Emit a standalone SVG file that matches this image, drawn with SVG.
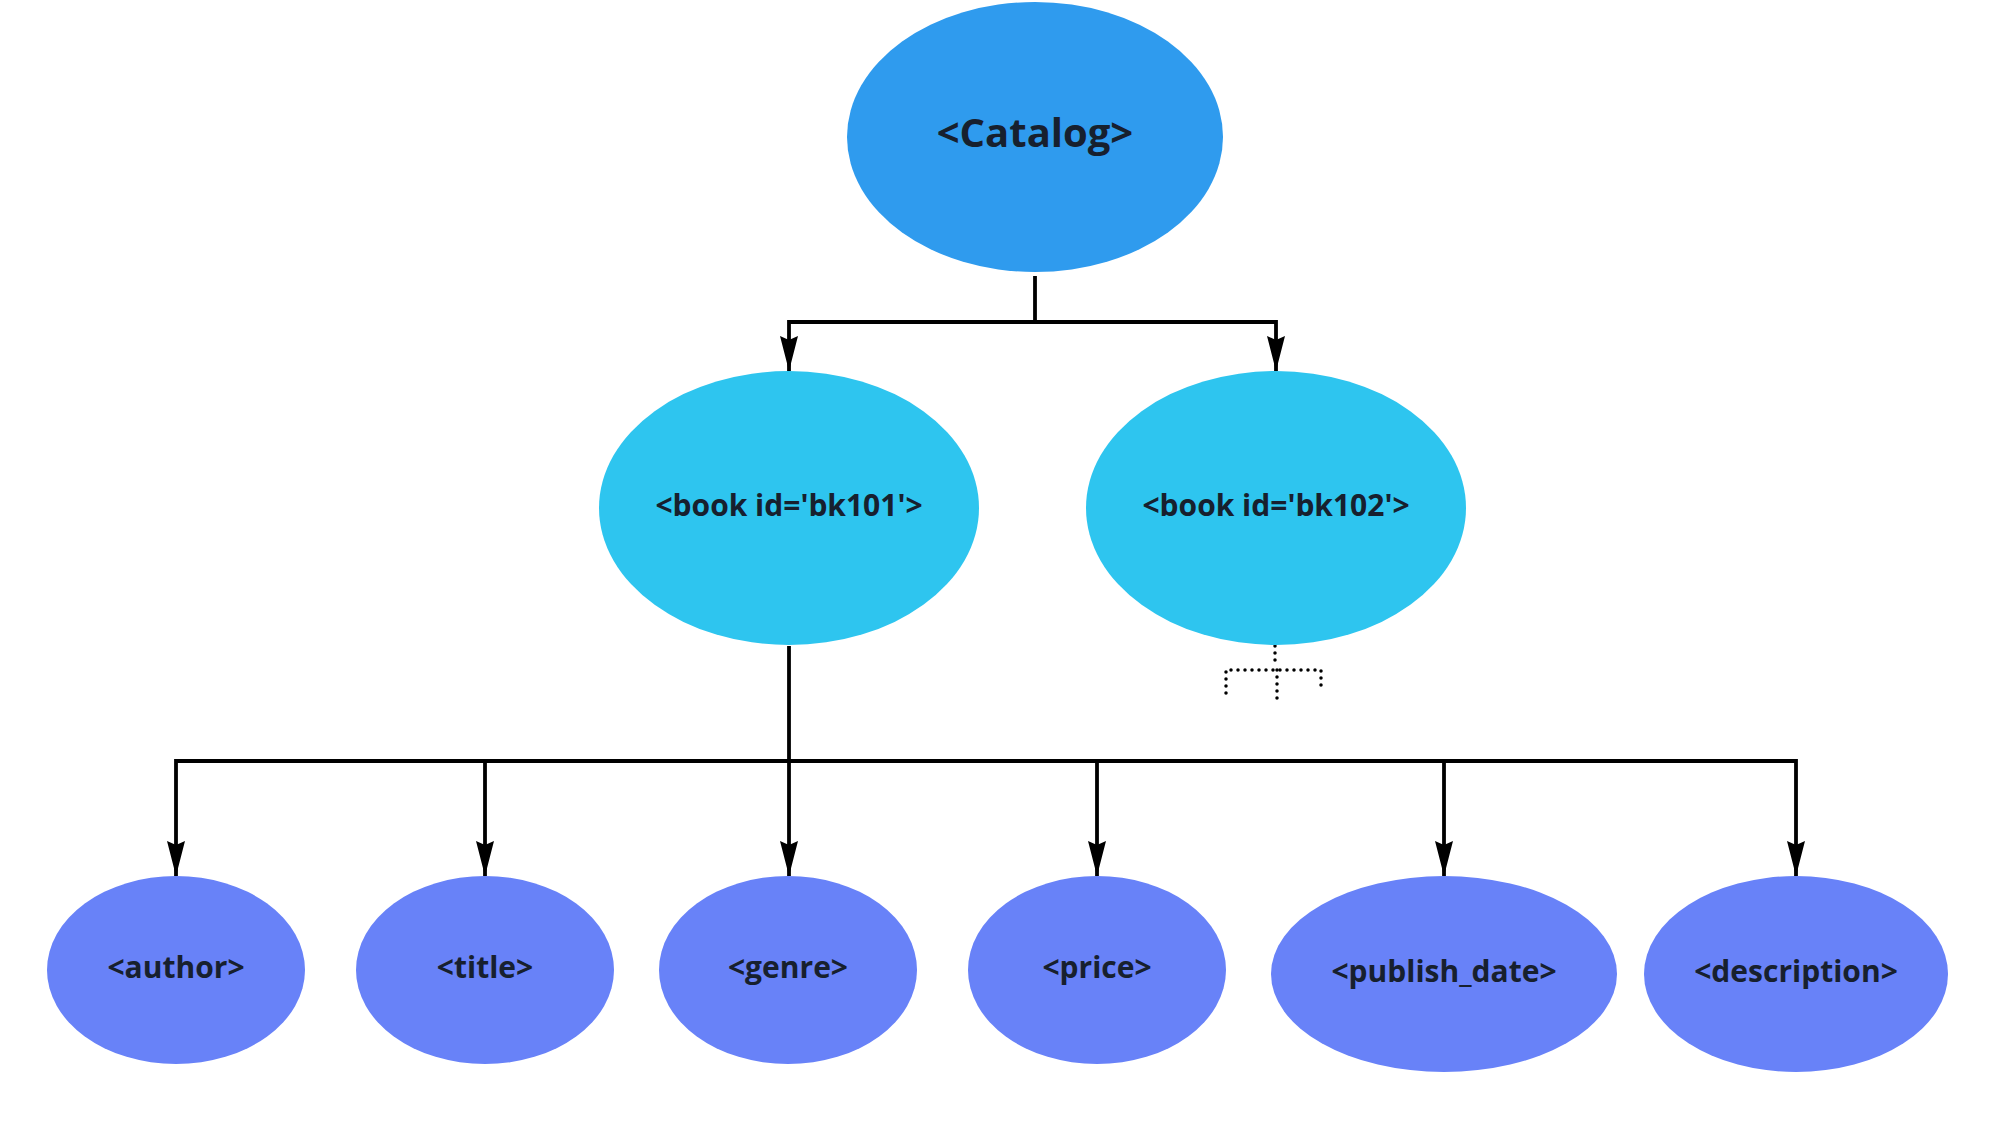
<svg xmlns="http://www.w3.org/2000/svg" width="1999" height="1125" viewBox="0 0 1999 1125">
<style>
.lbl{font-family:"Open Sans","DejaVu Sans",sans-serif;font-weight:bold;fill:#17202e;text-anchor:middle}
.root{fill:#2f9bee}
.book{fill:#2ec5ef}
.leaf{fill:#6882f8}
.conn{fill:none;stroke:#000;stroke-width:3.8}
.dot{fill:none;stroke:#000;stroke-width:3.5;stroke-linecap:round;stroke-dasharray:0 7}
</style>
<defs>
<marker id="arr" markerUnits="userSpaceOnUse" markerWidth="36" markerHeight="20" viewBox="0 0 36 20" refX="35" refY="10" orient="auto-start-reverse">
<path d="M0,1 L35,10 L0,19 L4,10 Z" fill="#000"/>
</marker>
</defs>
<rect width="1999" height="1125" fill="#fff"/>
<g id="connectors">
<path class="conn" d="M1035,276 V322"/>
<path class="conn" d="M789,371 V322 H1276 V371" marker-start="url(#arr)" marker-end="url(#arr)"/>
<path class="conn" d="M789,646 V762"/>
<path class="conn" d="M176,876 V761 H1796 V876" marker-start="url(#arr)" marker-end="url(#arr)"/>
<path class="conn" d="M485,761 V876" marker-end="url(#arr)"/>
<path class="conn" d="M789,761 V876" marker-end="url(#arr)"/>
<path class="conn" d="M1097,761 V876" marker-end="url(#arr)"/>
<path class="conn" d="M1444,761 V876" marker-end="url(#arr)"/>
<path class="dot" d="M1275,646 V667"/>
<path class="dot" d="M1226,693 V670 H1321 V690"/>
<path class="dot" d="M1277,670 V700"/>
</g>
<g id="catalog">
<ellipse class="root" cx="1035" cy="137" rx="188" ry="135"/>
<text class="lbl" x="1035" y="147" font-size="40">&lt;Catalog&gt;</text>
</g>
<g id="book1">
<ellipse class="book" cx="789" cy="508" rx="190" ry="137"/>
<text class="lbl" x="789" y="516" font-size="30">&lt;book id='bk101'&gt;</text>
</g>
<g id="book2">
<ellipse class="book" cx="1276" cy="508" rx="190" ry="137"/>
<text class="lbl" x="1276" y="516" font-size="30">&lt;book id='bk102'&gt;</text>
</g>
<g id="author">
<ellipse class="leaf" cx="176" cy="970" rx="129" ry="94"/>
<text class="lbl" x="176" y="978" font-size="30">&lt;author&gt;</text>
</g>
<g id="title">
<ellipse class="leaf" cx="485" cy="970" rx="129" ry="94"/>
<text class="lbl" x="485" y="978" font-size="30">&lt;title&gt;</text>
</g>
<g id="genre">
<ellipse class="leaf" cx="788" cy="970" rx="129" ry="94"/>
<text class="lbl" x="788" y="978" font-size="30">&lt;genre&gt;</text>
</g>
<g id="price">
<ellipse class="leaf" cx="1097" cy="970" rx="129" ry="94"/>
<text class="lbl" x="1097" y="978" font-size="30">&lt;price&gt;</text>
</g>
<g id="publish_date">
<ellipse class="leaf" cx="1444" cy="974" rx="173" ry="98"/>
<text class="lbl" x="1444" y="982" font-size="30">&lt;publish_date&gt;</text>
</g>
<g id="description">
<ellipse class="leaf" cx="1796" cy="974" rx="152" ry="98"/>
<text class="lbl" x="1796" y="982" font-size="30">&lt;description&gt;</text>
</g>
</svg>
